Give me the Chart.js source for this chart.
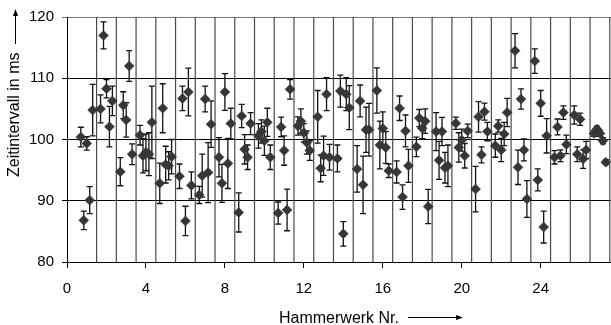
<!DOCTYPE html>
<html>
<head>
<meta charset="utf-8">
<script src="https://cdn.jsdelivr.net/npm/chart.js@4/dist/chart.umd.min.js"></script>
<style>
  html, body { margin: 0; padding: 0; background: #fff; overflow: hidden; width: 611px; height: 325px; }
  #wrap { position: absolute; left: 0; top: 0; width: 640px; height: 325px; }
</style>
</head>
<body>
<div id="wrap"><canvas id="c"></canvas></div>
<script>
// ---- data ----
const hammerNr = [1,2,3,4,5,6,7,8,9,10,11,12,13,14,15,16,17,18,19,20,21,22,23,24,25,26,27];
// position of the 5 measurements of each hammer around its number
const measureOffsets = [-0.3, -0.15, 0, 0.15, 0.3];
// mean time interval (ms), 5 per hammer
const intervalMs = [
  100.4, 86.8, 99.35, 90.1, 104.8,
  105.0, 117.0, 108.3, 102.1, 106.3,
  94.75, 105.6, 103.2, 112.0, 97.6,
  100.7, 97.35, 97.9, 97.6, 102.8,
  92.85, 105.1, 95.9, 95.7, 97.2,
  94.0, 106.7, 86.7, 107.75, 92.5,
  90.95, 94.1, 106.6, 94.6, 102.5,
  97.1, 92.85, 107.75, 96.1, 102.6,
  88.1, 103.85, 98.4, 97.1, 102.6,
  100.6, 101.3, 99.8, 102.8, 97.1,
  88.0, 102.05, 98.2, 88.5, 108.2,
  102.2, 103.0, 101.1, 99.5, 98.2,
  103.7, 95.3, 97.35, 107.4, 97.1,
  96.9, 107.9, 84.6, 107.4, 105.2,
  95.2, 106.3, 92.6, 101.6, 101.6,
  108.0, 99.1, 101.8, 98.7, 94.9,
  94.7, 105.1, 90.6, 101.4, 95.7,
  98.8, 103.5, 101.85, 103.0, 89.05,
  101.3, 96.6, 101.3, 95.4, 95.7,
  102.65, 98.7, 99.9, 97.35, 101.4,
  91.9, 103.7, 97.5, 104.55, 101.3,
  99.0, 102.2, 98.3, 100.9, 104.4,
  114.5, 95.45, 106.6, 98.3, 90.3,
  112.8, 93.4, 105.9, 85.7, 100.6,
  97.1, 102.05, 97.35, 104.4, 99.2,
  104.0, 97.6, 103.3, 96.8, 98.3,
  101.0, 101.7, 101.0, 99.8, 96.3
];
// half length of the error bars (ms)
const errorMs = [
  1.6, 1.5, 1.1, 2.2, 4.2,
  2.3, 2.2, 1.5, 3.3, 2.4,
  2.3, 2.2, 2.8, 2.5, 1.7,
  1.6, 2.8, 3.0, 3.5, 5.9,
  3.3, 4.0, 3.0, 2.3, 2.8,
  2.0, 2.0, 2.4, 3.9, 2.2,
  1.4, 3.5, 2.1, 4.9, 3.8,
  3.2, 3.1, 3.0, 4.1, 2.5,
  3.2, 1.9, 2.4, 2.0, 1.8,
  2.0, 1.9, 2.4, 2.3, 2.0,
  1.8, 1.6, 2.4, 3.4, 1.6,
  1.5, 2.0, 1.5, 1.9, 1.6,
  4.3, 2.2, 3.2, 2.7, 2.1,
  2.2, 2.6, 2.0, 2.7, 3.6,
  3.8, 2.6, 4.7, 3.7, 4.3,
  3.7, 3.9, 2.7, 2.6, 1.1,
  1.8, 2.0, 2.0, 2.6, 2.7,
  1.6, 1.4, 1.7, 2.0, 2.8,
  3.1, 3.1, 2.3, 2.5, 3.4,
  1.0, 2.4, 1.8, 2.0, 1.1,
  3.7, 2.5, 1.3, 1.4, 1.5,
  1.9, 1.0, 1.9, 1.9, 2.3,
  2.8, 2.8, 1.65, 1.8, 3.0,
  2.0, 1.8, 2.1, 2.6, 2.8,
  1.1, 1.3, 0.95, 1.1, 1.5,
  1.5, 1.2, 1.0, 1.5, 1.4,
  0.5, 0.5, 0.5, 0.5, 0.4
];
const xTickStep = 4;
const yTicks = [80, 90, 100, 110, 120];
const xTitle = 'Hammerwerk Nr.';
const yTitle = 'Zeitintervall in ms';

// ---- build points ----
const points = [];
hammerNr.forEach((h, i) => {
  measureOffsets.forEach((o, k) => {
    const idx = i * measureOffsets.length + k;
    points.push({ x: h + o, y: intervalMs[idx], err: errorMs[idx] });
  });
});

const FONT = '"Liberation Sans", Arial, Helvetica, sans-serif';

const decor = {
  id: 'decor',
  beforeDatasetsDraw(chart) {
    const { ctx, chartArea: a, scales: { x, y } } = chart;
    ctx.save();
    ctx.beginPath();
    ctx.rect(a.left, a.top - 1, a.right - a.left, a.bottom - a.top + 2);
    ctx.clip();
    // separators between hammers
    ctx.strokeStyle = '#4a4a4a';
    ctx.lineWidth = 1.2;
    hammerNr.forEach(h => {
      const px = x.getPixelForValue(h + 0.5);
      ctx.beginPath();
      ctx.moveTo(px, a.top);
      ctx.lineTo(px, a.bottom);
      ctx.stroke();
    });
    ctx.restore();
    // error bars
    ctx.save();
    ctx.strokeStyle = '#111';
    ctx.lineWidth = 1.3;
    const cap = 3;
    points.forEach(p => {
      const px = x.getPixelForValue(p.x);
      const y1 = y.getPixelForValue(p.y + p.err);
      const y2 = y.getPixelForValue(p.y - p.err);
      ctx.beginPath();
      ctx.moveTo(px, y1); ctx.lineTo(px, y2);
      ctx.moveTo(px - cap, y1); ctx.lineTo(px + cap, y1);
      ctx.moveTo(px - cap, y2); ctx.lineTo(px + cap, y2);
      ctx.stroke();
    });
    ctx.restore();
  },
  afterDraw(chart) {
    const { ctx } = chart;
    ctx.save();
    ctx.fillStyle = '#000';
    ctx.strokeStyle = '#000';
    ctx.font = '16px ' + FONT;
    ctx.textBaseline = 'alphabetic';
    ctx.textAlign = 'left';
    // x title
    ctx.fillText(xTitle, 279, 323);
    ctx.lineWidth = 1;
    ctx.beginPath();
    ctx.moveTo(408, 317.5); ctx.lineTo(458, 317.5); ctx.stroke();
    ctx.beginPath();
    ctx.moveTo(463, 317.5); ctx.lineTo(456, 315); ctx.lineTo(456, 320); ctx.closePath(); ctx.fill();
    // y title
    ctx.save();
    ctx.translate(19, 177);
    ctx.rotate(-Math.PI / 2);
    ctx.fillText(yTitle, 0, 0);
    ctx.restore();
    ctx.beginPath();
    ctx.moveTo(15.5, 44); ctx.lineTo(15.5, 14); ctx.stroke();
    ctx.beginPath();
    ctx.moveTo(15.5, 9); ctx.lineTo(13, 16); ctx.lineTo(18, 16); ctx.closePath(); ctx.fill();
    ctx.restore();
  }
};

new Chart(document.getElementById('c'), {
  type: 'scatter',
  data: {
    datasets: [{
      data: points,
      pointStyle: 'rectRot',
      pointRadius: 5,
      pointHoverRadius: 5,
      backgroundColor: '#363636',
      borderColor: '#363636',
      borderWidth: 0.5
    }]
  },
  options: {
    responsive: true,
    maintainAspectRatio: false,
    animation: false,
    events: [],
    layout: { padding: { top: 16, right: 19, left: 0, bottom: 0 } },
    plugins: { legend: { display: false }, tooltip: { enabled: false } },
    scales: {
      x: {
        type: 'linear',
        min: 0,
        max: 28,
        afterFit(s) { s.height = 63; },
        border: { display: true, color: '#000', width: 1 },
        grid: { drawOnChartArea: false, drawTicks: true, tickLength: 6, color: '#000' },
        ticks: { stepSize: xTickStep, padding: 12, color: '#000', font: { family: FONT, size: 15 } }
      },
      y: {
        type: 'linear',
        min: yTicks[0],
        max: yTicks[yTicks.length - 1],
        afterFit(s) { s.width = 67; },
        afterBuildTicks(s) { s.ticks = yTicks.map(v => ({ value: v })); },
        border: { display: true, color: '#000', width: 1 },
        grid: {
          drawOnChartArea: true, drawTicks: true, tickLength: 5,
          color: (c) => (c.tick && c.tick.value === 120) ? '#7a7a7a' : '#000'
        },
        ticks: { padding: 8, color: '#000', font: { family: FONT, size: 15 } }
      }
    }
  },
  plugins: [decor]
});
</script>
</body>
</html>
